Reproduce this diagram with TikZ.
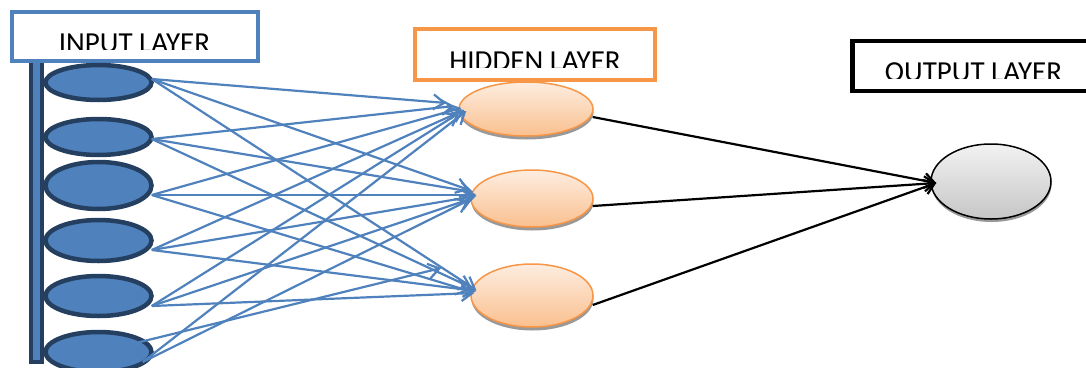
\documentclass[tikz,border=0pt]{standalone}
\usepackage{fontspec}
\setmainfont{Carlito}
\usetikzlibrary{shapes.geometric,arrows.meta,calc,shadows}
\definecolor{inblue}{HTML}{4F81BD}
\definecolor{innavy}{HTML}{243F60}
\definecolor{hidorange}{HTML}{F79646}
\definecolor{hidtop}{HTML}{FDEDE0}
\definecolor{hidbot}{HTML}{FAC08F}
\definecolor{outtop}{HTML}{F2F2F2}
\definecolor{outbot}{HTML}{C6C6C6}
\tikzset{
  layerbox/.style={rectangle, draw=#1, line width=4pt, fill=white, inner sep=0pt},
  layertext/.style={anchor=base, inner sep=0pt, font=\fontsize{29}{34}\selectfont},
  innode/.style={ellipse, draw=innavy, fill=inblue, line width=4.5pt, inner sep=0pt,
    minimum width=106pt, minimum height=#1},
  hidnode/.style={ellipse, draw=hidorange, line width=1.5pt, inner sep=0pt,
    top color=hidtop, bottom color=hidbot,
    drop shadow={shadow xshift=0.5pt, shadow yshift=-3.5pt, fill=black!40, opacity=1}},
  outnode/.style={ellipse, draw=black, line width=1.5pt, inner sep=0pt,
    top color=outtop, bottom color=outbot,
    drop shadow={shadow xshift=0.5pt, shadow yshift=-3pt, fill=black!40, opacity=1}},
  wire/.style={draw=inblue, line width=2.2pt, -{Straight Barb[length=11pt,width=15pt]}},
  outwire/.style={draw=black, line width=2.2pt, -{Straight Barb[length=10pt,width=15pt]}},
}
\begin{document}
\begin{tikzpicture}[x=1pt, y=-1pt]
  \useasboundingbox (0,0) rectangle (1086,367);
  \clip (0,0) rectangle (1086,367);

  % vertical bus bar joining the input units
  \draw[draw=innavy, fill=inblue, line width=3.5pt] (31,60) rectangle (42,362);

  % layer title boxes
  \node[layerbox=inblue, minimum width=246pt, minimum height=49pt] (inbox) at (135,36.5) {};
  \node[layerbox=hidorange, minimum width=240pt, minimum height=51pt] (hidbox) at (535,54.5) {};
  \node[layerbox=black, line width=4.5pt, minimum width=238pt, minimum height=50pt] (outbox) at (971.5,66) {};
  % titles overflow their frames and are cut along the bottom
  \begin{scope}
    \clip (14,14) rectangle (256,49.6);
    \node[layertext] (intext) at (134.5,52) {INPUT LAYER};
  \end{scope}
  \begin{scope}
    \clip (417,31) rectangle (653,67.8);
    \node[layertext] (hidtext) at (535,70.5) {HIDDEN LAYER};
  \end{scope}
  \begin{scope}
    \clip (855,43) rectangle (1086,78.8);
    \node[layertext] (outtext) at (973.5,81.5) {OUTPUT LAYER};
  \end{scope}

  % input units
  \node[innode=35pt] (i1) at (98.5,82.5) {};
  \node[innode=36pt] (i2) at (98.5,137) {};
  \node[innode=47pt] (i3) at (98.5,185.5) {};
  \node[innode=41pt] (i4) at (98.5,240.5) {};
  \node[innode=40pt] (i5) at (98.5,296) {};
  \node[innode=40pt] (i6) at (98.5,352) {};

  % hidden units
  \node[hidnode, minimum width=134pt, minimum height=54pt] (h1) at (526,109) {};
  \node[hidnode, minimum width=122pt, minimum height=57pt] (h2) at (532,198.5) {};
  \node[hidnode, minimum width=122pt, minimum height=63pt] (h3) at (532,295.5) {};

  % output unit
  \node[outnode, minimum width=120pt, minimum height=75pt] (out) at (991,181.5) {};

  % input -> hidden weights
  \draw[wire] ($(i1.east)+(-2,-3.5)$) -- ($(h1.west)+(-12,-6)$);
  \draw[wire] ($(i1.east)+(-2,-3.5)$) -- ($(h2.west)+(-1,-8.5)$);
  \draw[wire] ($(i1.east)+(-2,-3.5)$) -- ($(h3.west)+(6,-5.5)$);
  \draw[wire] ($(i2.east)+(-2,2)$) -- ($(h1.west)+(-4,-3)$);
  \draw[wire] ($(i2.east)+(-2,2)$) -- ($(h2.west)+(3,-6.5)$);
  \draw[wire] ($(i2.east)+(-2,2)$) -- ($(h3.west)+(2,-7.5)$);
  \draw[wire] ($(i3.east)+(-2,9.5)$) -- ($(h1.west)+(3,-1)$);
  \draw[wire] ($(i3.east)+(-2,9.5)$) -- ($(h2.west)+(6,-3.5)$);
  \draw[wire] ($(i3.east)+(-2,9.5)$) -- ($(h3.west)+(-1,-4.5)$);
  \draw[wire] ($(i4.east)+(-2,9.5)$) -- ($(h1.west)+(6,1)$);
  \draw[wire] ($(i4.east)+(-2,9.5)$) -- ($(h2.west)+(6,-2.5)$);
  \draw[wire] ($(i4.east)+(-2,9.5)$) -- ($(h3.west)+(6,-4.5)$);
  \draw[wire] ($(i5.east)+(-2,10)$) -- ($(h1.west)+(1,4)$);
  \draw[wire] ($(i5.east)+(-2,10)$) -- ($(h2.west)+(3,-0.5)$);
  \draw[wire] ($(i5.east)+(-2,10)$) -- ($(h3.west)+(4,-2.5)$);
  \draw[wire] ($(i6.east)+(-11,10)$) -- ($(h1.west)+(8,2)$);
  \draw[wire] ($(i6.east)+(-11,10)$) -- ($(h2.west)+(-1,1.5)$);
  \draw[wire] ($(i6.east)+(-26,-7)$) -- ($(h3.west)+(-29,-27.5)$);

  % hidden -> output weights
  \draw[outwire] ($(h1.east)+(-1,8)$) -- ($(out.west)+(6,1.5)$);
  \draw[outwire] ($(h2.east)+(-1,7.5)$) -- ($(out.west)+(6,1.5)$);
  \draw[outwire] ($(h3.east)+(-1,9.5)$) -- ($(out.west)+(6,1.5)$);
\end{tikzpicture}
\end{document}
